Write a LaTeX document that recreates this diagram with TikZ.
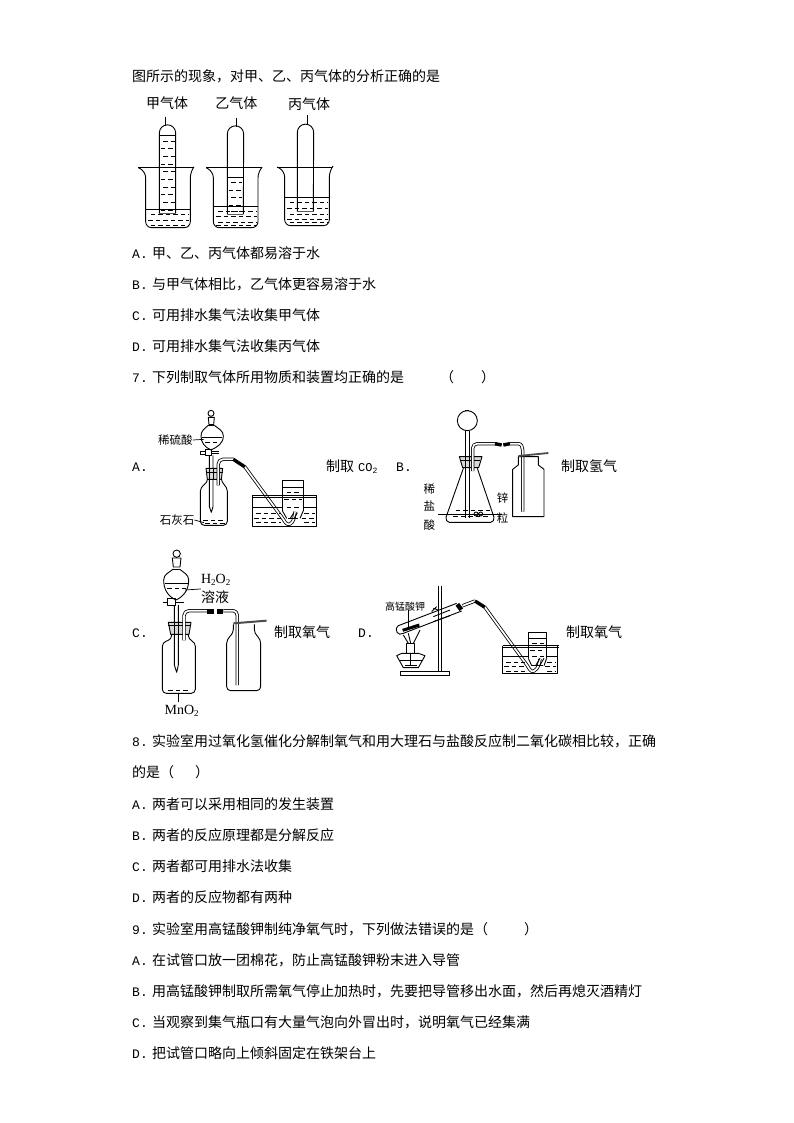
\documentclass[tikz,border=0pt]{standalone}
\usepackage{fontspec}
\usetikzlibrary{arrows.meta}
\setmainfont{Noto Sans CJK SC}
\newfontfamily\monof{Liberation Mono}
\newfontfamily\timesf{Liberation Serif}
% rows of short dashes standing for a liquid: left, right, list of heights
\newcommand{\waterrows}[3]{%
  \foreach \y [count=\n] in {#3}
    \draw[water line] ({#1+mod(\n,2)*7},\y) -- (#2,\y);}
\begin{document}
\begin{tikzpicture}[x=1pt,y=-1pt,line join=round,
    % styles
    glass/.style={black,line width=0.9pt},
    water line/.style={black,line width=0.8pt,dash pattern=on 4.5pt off 3pt},
    glass tube/.style={black,line width=0.8pt,double=white,double distance=1.7pt},
    rubber/.style={black,line width=3.4pt},
    bottom mark/.style={gray!70!black,line width=1.5pt},
    question text/.style={anchor=west,inner sep=0pt,text height=13pt,text depth=2pt,
      font=\fontsize{14}{14}\selectfont},
    small text/.style={anchor=center,inner sep=0pt,text height=10pt,text depth=2pt,
      font=\fontsize{11.5}{12}\selectfont},
    tiny text/.style={small text,font=\fontsize{10}{10}\selectfont},
    pointer/.style={black,line width=0.7pt}]

  \useasboundingbox (0,0) rectangle (794,1123);

  % question text
  \node[question text] (intro) at (132,76) {图所示的现象，对甲、乙、丙气体的分析正确的是};
  \foreach \y/\lab/\txt [count=\n] in {
      253/A./甲、乙、丙气体都易溶于水,
      284/B./与甲气体相比，乙气体更容易溶于水,
      315/C./可用排水集气法收集甲气体,
      346/D./可用排水集气法收集丙气体,
      377/7./下列制取气体所用物质和装置均正确的是\hspace{36pt}（\hspace{27pt}）,
      741/8./实验室用过氧化氢催化分解制氧气和用大理石与盐酸反应制二氧化碳相比较，正确,
      804/A./两者可以采用相同的发生装置,
      835/B./两者的反应原理都是分解反应,
      866/C./两者都可用排水法收集,
      897/D./两者的反应物都有两种,
      929/9./实验室用高锰酸钾制纯净氧气时，下列做法错误的是（\hspace{36pt}）,
      960/A./在试管口放一团棉花，防止高锰酸钾粉末进入导管,
      991/B./用高锰酸钾制取所需氧气停止加热时，先要把导管移出水面，然后再熄灭酒精灯,
      1022/C./当观察到集气瓶口有大量气泡向外冒出时，说明氧气已经集满,
      1053/D./把试管口略向上倾斜固定在铁架台上}
    \node[question text] (line\n) at (132,\y) {\makebox[20pt][l]{\monof\fontsize{13}{14}\selectfont\lab}\txt};
  \node[question text] (lineend) at (132,772) {的是（\hspace{21pt}）};

  % choice letters and captions
  \foreach \x/\y/\lab [count=\n] in {132/466/A.,396/466/B.,132/632/C.,358/632/D.}
    \node[question text] (choice\n) at (\x,\y) {\monof\fontsize{13}{14}\selectfont\lab};
  \node[question text] (captionA) at (326,466) {制取\hspace{4pt}{\monof\fontsize{12}{14}\selectfont CO\raisebox{-1.5pt}{\fontsize{8}{8}\selectfont 2}}};
  \node[question text] (captionB) at (561,466) {制取氢气};
  \node[question text] (captionC) at (274,632) {制取氧气};
  \node[question text] (captionD) at (566,632) {制取氧气};

  %%% three beakers
  \begin{scope}[shift={(120,60)},scale=1/3]

    % labels
    \node[question text,anchor=center] (gasone) at (141,130) {甲气体};
    \node[question text,anchor=center] (gastwo) at (349,130) {乙气体};
    \node[question text,anchor=center] (gasthree) at (567,133) {丙气体};

    % beakers and tubes
    \foreach \rl/\wl/\wr/\rr/\rim/\bot/\lev/\tl/\tr/\ttop/\tbot/\tx/\tick in {
        55/77/211/220/323/503/447/118/167/195/460/135/170,
        258/280/414/425/323/503/438/322/370/198/463/349/174,
        472/494/628/637/321/497/411/532/580/193/455/562/165} {
      \draw[glass,rounded corners=6pt] (\rl,\rim) -- (\wl,\rim+12) -- (\wl,\bot) -- (\wr,\bot) -- (\wr,\rim+12) -- (\rr,\rim);
      \draw[glass] (\rl,\rim) -- (\rr,\rim);
      \draw[glass] (\wl,\lev) -- (\wr,\lev);
      \draw[glass] (\tl,\tbot) -- (\tl,\ttop+24) arc[start angle=180,end angle=360,radius=24.5] -- (\tr,\tbot);
      \draw[pointer] (\tx,\tick) -- (\tx,\ttop+3);
      \draw[bottom mark] (\tl,\tbot) -- (\tr,\tbot);
    }

    % liquid in the tubes
    \draw[glass] (118,225) -- (167,225);
    \draw[glass] (322,352) -- (370,352);
    \waterrows{122}{164}{243,266,289,312,335,358,381,404,427,450}
    \waterrows{326}{367}{367,390,413,436,455}

    % liquid in the beakers
    \waterrows{85}{208}{463,480,495}
    \waterrows{288}{410}{454,470,487,495}
    \waterrows{502}{624}{428,444,462,478,488}
  \end{scope}

  %%% A
  \begin{scope}[shift={(120,400)},scale=1/3]

    % labels
    \node[small text] (acidA) at (166,120) {稀硫酸};
    \node[small text] (stoneA) at (171,360) {石灰石};
    \draw[pointer] (acidA.east) -- (252,118);
    \draw[pointer] (stoneA.east) -- (252,368);

    % funnel
    \draw[glass] (273,40) circle[radius=9];
    \draw[glass] (265,52) -- (283,52) -- (281,74) -- (267,74) -- cycle;
    \draw[glass] (265,76) to[out=-140,in=90] (243,108) to[out=-90,in=155] (273,150) to[out=25,in=-90] (310,108) to[out=90,in=-40] (283,76);
    \draw[glass] (265,76) -- (283,76);
    \draw[glass] (246,112) -- (307,112);
    \draw[water line] (255,127) -- (300,127);
    \draw[glass] (240,155) rectangle (255,163);
    \draw[glass] (255,149) rectangle (275,166);
    \draw[glass] (275,155) -- (296,155) (275,160) -- (296,160);
    \draw[glass] (268,166) -- (268,320) -- (274,337) -- (279,320) -- (279,166);

    % bottle
    \draw[glass,rounded corners=4pt] (263,238) -- (263,247) -- (241,262) -- (241,376) -- (322,376) -- (322,262) -- (304,247) -- (304,238);
    \draw[glass,fill=black!15] (258,205) -- (308,205) -- (304,238) -- (262,238) -- cycle;
    \draw[glass] (257,216) -- (309,216);
    \draw[glass] (268,205) -- (268,238) (279,205) -- (279,238);
    \draw[water line] (250,362) -- (315,362);
    \draw[water line] (255,370) -- (318,370);

    % delivery tube
    \draw[glass tube] (295,256) -- (295,192) to[out=90,in=180] (308,178) -- (342,178);
    \draw[rubber] (340,178) -- (375,201);
    \draw[glass tube] (375,201) -- (490,358) to[out=-60,in=-150] (510,372) to[out=30,in=-100] (525,335);

    % trough and jar
    \draw[glass] (398,285) -- (590,285) (398,291) -- (590,291) (398,285) -- (398,380) -- (588,380) -- (588,285);
    \draw[glass] (398,321) -- (487,321) (550,321) -- (588,321);
    \waterrows{402}{482}{340,355,368}
    \waterrows{545}{585}{340,355,368}
    \draw[glass] (487,241) -- (550,241) -- (550,332) (487,241) -- (487,332);
    \draw[glass] (487,263) -- (550,263);
    \waterrows{493}{545}{276,298,321}
    \draw[glass] (487,332) -- (500,355) (550,332) -- (540,355);
    \draw[rubber,line width=1.6pt] (505,356) -- (535,356);
    \draw[glass] (510,356) -- (522,338) (522,356) -- (532,338);
  \end{scope}

  %%% B
  \begin{scope}[shift={(390,400)},scale=1/3]

    % labels
    \foreach \y/\txt [count=\n] in {268/稀,320/盐,375/酸}
      \node[small text] (acidB\n) at (118,\y) {\txt};
    \foreach \y/\txt [count=\n] in {295/锌,355/粒}
      \node[small text] (zincB\n) at (338,\y) {\txt};
    \draw[pointer] (145,343) -- (335,343);

    % funnel
    \draw[glass] (232,62) circle[radius=30];
    \draw[glass] (226,32) -- (238,32);
    \draw[glass] (227,92) -- (227,355) (238,92) -- (238,355);

    % flask
    \draw[glass] (220,205) -- (168,352) to[out=-100,in=180] (178,367) -- (302,367) to[out=0,in=-80] (312,352) -- (262,205);
    \draw[glass,fill=black!15] (208,170) -- (276,170) -- (266,203) -- (218,203) -- cycle;
    \draw[glass] (213,180) -- (271,180);
    \draw[glass] (227,160) -- (227,203) (238,160) -- (238,203);
    \waterrows{190}{302}{330,350}
    \draw[glass] (258,342) circle[radius=6] (272,342) circle[radius=6];

    % delivery tube
    \draw[glass tube] (248,213) -- (248,145) to[out=90,in=180] (262,131) -- (318,131);
    \draw[rubber] (315,131) -- (335,135);
    \draw[rubber] (340,135) -- (360,131);
    \draw[glass tube] (360,131) -- (385,131) to[out=0,in=90] (398,150) -- (398,335);

    % jar
    \draw[glass] (385,170) -- (385,195) -- (368,208) -- (368,350) -- (462,350) -- (462,208) -- (445,195) -- (445,170) -- cycle;
    \draw[rubber,line width=1.8pt,gray!60!black] (385,168) -- (475,159);
  \end{scope}

  %%% C
  \begin{scope}[shift={(120,545)},scale=1/3]

    % labels
    \node[small text,font=\timesf\fontsize{14}{14}\selectfont] (perC) at (287,103) {H\raisebox{-2pt}{\fontsize{9}{9}\selectfont 2}O\raisebox{-2pt}{\fontsize{9}{9}\selectfont 2}};
    \node[question text,anchor=center] (solC) at (285,155) {溶液};
    \node[small text,font=\timesf\fontsize{14}{14}\selectfont] (oxideC) at (185,495) {MnO\raisebox{-2pt}{\fontsize{9}{9}\selectfont 2}};
    \draw[pointer] (solC.north west) -- (195,135);
    \draw[pointer] (176,445) -- (176,472);

    % funnel
    \draw[glass] (170,26) circle[radius=11];
    \draw[glass] (157,39) -- (183,39) -- (180,66) -- (160,66) -- cycle;
    \draw[glass] (160,72) to[out=-140,in=90] (131,105) to[out=-90,in=155] (168,165) to[out=25,in=-90] (206,105) to[out=90,in=-40] (178,72);
    \draw[glass] (160,72) -- (178,72);
    \draw[glass] (135,116) -- (203,116);
    \draw[water line] (142,130) -- (198,130);
    \draw[glass] (128,172) -- (142,172);
    \draw[glass] (142,160) rectangle (165,180);
    \draw[glass] (165,172) -- (192,172);
    \draw[glass] (163,180) -- (163,360) -- (170,382) -- (175,360) -- (175,180);

    % bottle
    \draw[glass,rounded corners=4pt] (155,268) -- (155,283) -- (127,292) -- (127,445) -- (226,445) -- (226,292) -- (205,283) -- (205,268);
    \draw[glass,fill=black!15] (145,232) -- (213,232) -- (207,268) -- (152,268) -- cycle;
    \draw[glass] (145,240) -- (213,240);
    \draw[glass] (163,232) -- (163,268) (175,232) -- (175,268);
    \draw[water line] (145,437) -- (210,437);

    % delivery tube
    \draw[glass tube] (192,286) -- (192,212) to[out=90,in=180] (207,197) -- (262,197);
    \draw[rubber,line width=5pt] (260,198) -- (282,198);
    \draw[rubber,line width=5pt] (290,198) -- (310,198);
    \draw[glass tube] (310,197) -- (340,197) to[out=0,in=90] (352,212) -- (352,420);

    % jar
    \draw[glass,rounded corners=4pt] (340,238) -- (340,265) -- (320,283) -- (320,437) -- (422,437) -- (422,283) -- (403,265) -- (403,238);
    \draw[rubber,line width=2pt,gray!60!black] (340,235) -- (440,227);
  \end{scope}

  %%% D
  \begin{scope}[shift={(370,575)},scale=1/3]

    % labels
    \node[tiny text] (saltD) at (105,95) {高锰酸钾};
    \draw[pointer] (115,106) -- (115,160);

    % stand
    \draw[glass] (205,33) -- (205,288) (213,33) -- (213,288);
    \draw[glass] (90,288) rectangle (238,302);

    % test tube
    \draw[glass] (260,85) -- (85,152) .. controls (70,165) and (85,185) .. (100,175) -- (275,108);
    \draw[glass] (190,140) -- (240,122) (190,125) -- (240,105);
    \draw[glass] (185,110) -- (200,95) (190,100) -- (205,105);
    \draw[rubber,line width=4.5pt] (262,88) -- (274,104);
    \draw[rubber,line width=3pt] (98,166) -- (148,150);

    % burner
    \draw[glass] (100,180) -- (115,205) (150,165) -- (130,205) (115,175) -- (122,205);
    \draw[glass] (108,205) rectangle (132,235);
    \draw[glass] (95,235) -- (80,242) -- (100,278) -- (145,278) -- (165,242) -- (145,235) -- cycle;
    \draw[glass] (88,255) -- (157,255);
    \draw[rubber,line width=1.6pt] (105,272) -- (140,272);
    \draw[glass] (120,235) -- (120,272);

    % delivery tube
    \draw[glass tube] (278,92) -- (315,78);
    \draw[rubber] (315,78) -- (345,97);
    \draw[glass tube] (345,97) -- (472,272) to[out=-60,in=-150] (492,288) to[out=30,in=-100] (510,252);

    % trough and jar
    \draw[glass] (398,212) -- (567,212) (398,217) -- (567,217) (398,212) -- (398,295) -- (562,295) -- (562,212);
    \draw[glass] (398,245) -- (475,245) (530,245) -- (562,245);
    \waterrows{402}{465}{262,275,288}
    \waterrows{525}{558}{262,275,288}
    \draw[glass] (475,173) -- (530,173) -- (530,250) (475,173) -- (475,250);
    \draw[glass] (475,190) -- (530,190);
    \waterrows{480}{525}{205,225,245}
    \draw[glass] (475,250) -- (485,272) (530,250) -- (522,272);
    \draw[rubber,line width=1.6pt] (485,272) -- (518,272);
    \draw[glass] (498,270) -- (510,250) (510,270) -- (522,250);
  \end{scope}
\end{tikzpicture}
\end{document}
